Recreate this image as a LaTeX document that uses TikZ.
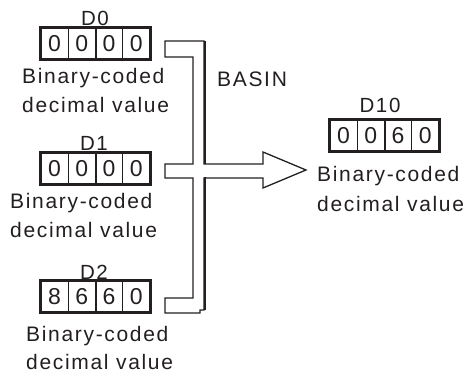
\documentclass[tikz,border=0pt]{standalone}
\usepackage{fontspec}
\setmainfont{Liberation Sans}[LetterSpace=8]
\definecolor{ink}{HTML}{231F20}
\newcommand\regbox[7]{%
  % #1 name, #2 left x, #3 centre y, #4..#7 digits
  \node[cell] (#1a) at (#2+13.625,#3) {#4};
  \node[cell] (#1b) at (#2+40.875,#3) {#5};
  \node[cell] (#1c) at (#2+68.125,#3) {#6};
  \node[cell] (#1d) at (#2+95.375,#3) {#7};
  \draw[ink,line width=2.6pt] (#1a.north west) rectangle (#1d.south east);
  \draw[ink,line width=2.4pt] (#1b.north east) -- (#1b.south east);
}
\begin{document}
\begin{tikzpicture}[x=1pt,y=-1pt,
  cell/.style={draw=ink,line width=1.2pt,minimum width=27.25pt,minimum height=31pt,
    inner sep=0pt,text=ink,font=\fontsize{23}{23}\selectfont},
  lbl/.style={anchor=base,inner sep=0pt,text=ink,font=\fontsize{20.5}{20.5}\selectfont},
  txt/.style={anchor=base west,inner sep=0pt,text=ink,font=\fontsize{21}{21}\selectfont},
  brk/.style={draw=ink,line width=1.3pt,line join=miter},
  shadow/.style={draw=ink,line width=2.6pt}]
\useasboundingbox (0,0) rectangle (467,379);

% registers
\node[lbl] (l0) at (95,25.5) {D0};
\regbox{r0}{41}{43.5}{0}{0}{0}{0}
\node[txt] (t0a) at (22,83.3) {Binary-coded};
\node[txt] (t0b) at (22,113) {decimal value};

\node[lbl] (l1) at (94,151) {D1};
\regbox{r1}{41}{168.5}{0}{0}{0}{0}
\node[txt] (t1a) at (10,209) {Binary-coded};
\node[txt] (t1b) at (10,238) {decimal value};

\node[lbl] (l2) at (94,280) {D2};
\regbox{r2}{41}{296.5}{8}{6}{6}{0}
\node[txt] (t2a) at (26,342) {Binary-coded};
\node[txt] (t2b) at (26,370) {decimal value};

\node[lbl] (l10) at (380,113) {D10};
\regbox{r10}{330}{135.5}{0}{0}{6}{0}
\node[txt] (t10a) at (317,182) {Binary-coded};
\node[txt] (t10b) at (317,212) {decimal value};

\node[txt] (basin) at (217,87) {BASIN};

% bracket with arrow
\draw[brk] (165,41) -- (204,41) -- (204,164) -- (263,164) -- (263,152)
  -- (306,170) -- (263,188) -- (263,178) -- (204,178) -- (204,310)
  -- (200,310) -- (200,313) -- (165,313) -- (165,298) -- (193,298)
  -- (193,178) -- (165,178) -- (165,164) -- (193,164) -- (193,57)
  -- (165,57) -- cycle;
\draw[shadow] (205,41) -- (205,164.5);
\draw[shadow] (205,177.5) -- (205,310);
\end{tikzpicture}
\end{document}
